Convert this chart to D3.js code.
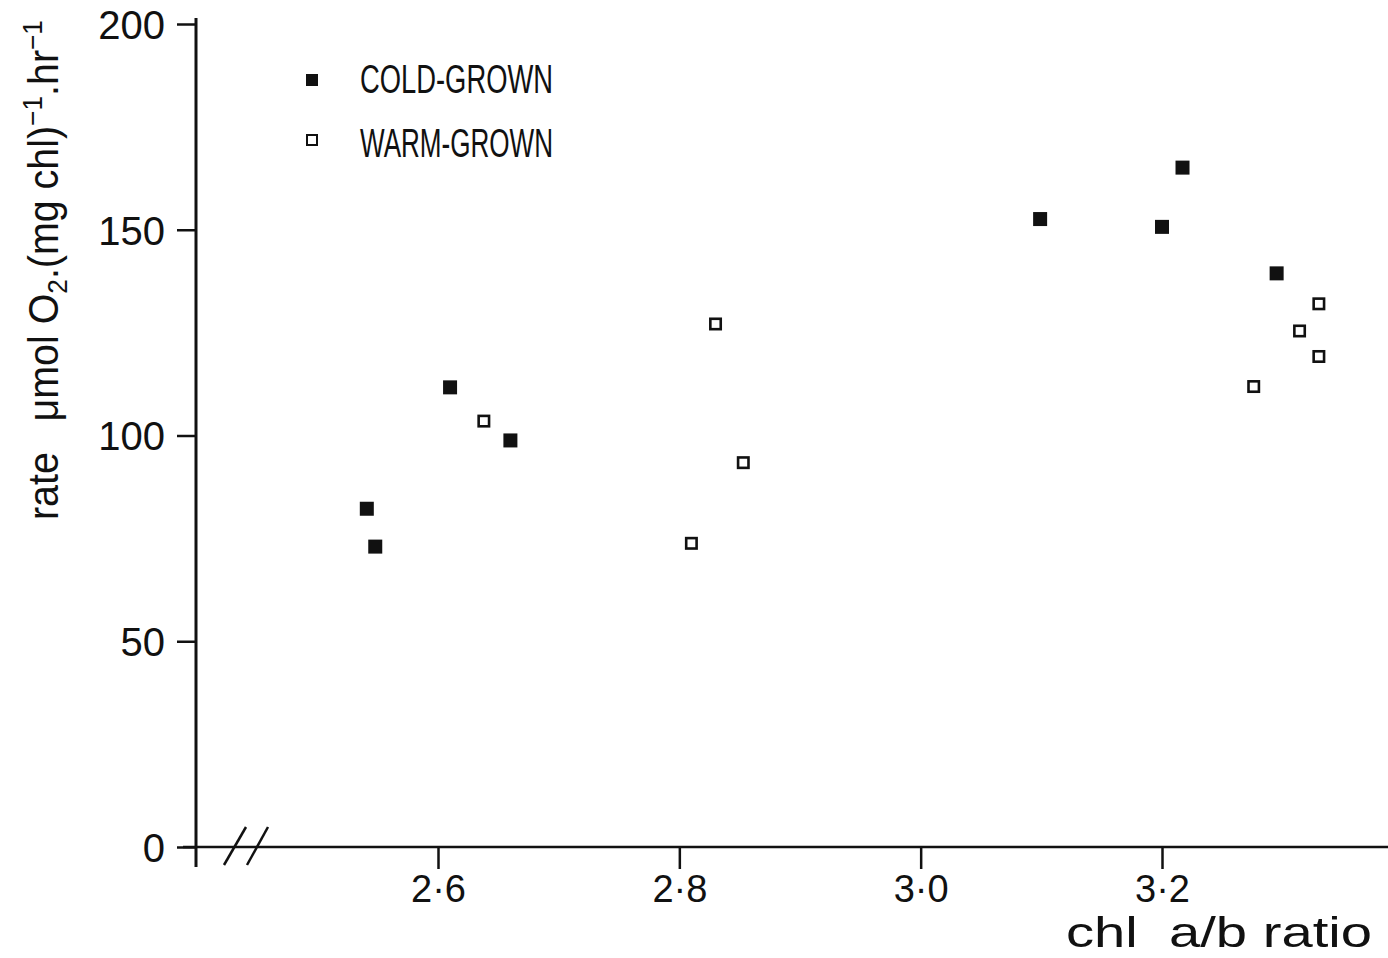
<!DOCTYPE html>
<html>
<head>
<meta charset="utf-8">
<script src="https://cdn.jsdelivr.net/npm/d3@7"></script>
<style>
  html, body { margin: 0; padding: 0; background: #fff; }
  svg { display: block; }
  .tick text { font-family: "Liberation Sans", Arial, sans-serif; }
</style>
</head>
<body>
<svg id="chart" width="1388" height="958"></svg>
<script>
// Photosynthetic rate vs chlorophyll a/b ratio
const coldRatio = [2.541, 2.548, 2.610, 2.660, 3.099, 3.200, 3.217, 3.295];
const coldRate  = [82.2, 73.0, 111.7, 98.8, 152.6, 150.7, 165.1, 139.4];
const warmRatio = [2.638, 2.810, 2.830, 2.853, 3.276, 3.314, 3.330, 3.330];
const warmRate  = [103.5, 73.8, 127.1, 93.4, 111.9, 125.4, 119.2, 132.0];
const xTicks = [2.6, 2.8, 3.0, 3.2];
const yTicks = [0, 50, 100, 150, 200];
const seriesNames = ["COLD-GROWN", "WARM-GROWN"];

const svg = d3.select("#chart");
const W = 1388, H = 958;
const originX = 196, originY = 847;
const fontMain = "'Liberation Sans', Arial, sans-serif";

const x = d3.scaleLinear().domain([2.6, 3.2]).range([438, 1162]);
const y = d3.scaleLinear().domain([0, 200]).range([originY, 24]);

const ink = "#111";

// Y axis
const yAxis = svg.append("g")
  .attr("transform", `translate(${originX},0)`)
  .call(d3.axisLeft(y).tickValues(yTicks).tickSize(19).tickPadding(12).tickFormat(d3.format("d")));
yAxis.select(".domain").remove();
yAxis.selectAll(".tick line").attr("stroke", ink).attr("stroke-width", 2.5);
yAxis.selectAll(".tick text").attr("font-size", 40).attr("fill", ink).attr("dy", "0.36em");
svg.append("line")
  .attr("x1", originX).attr("x2", originX)
  .attr("y1", 18).attr("y2", originY + 20)
  .attr("stroke", ink).attr("stroke-width", 3);

// X axis
const xAxis = svg.append("g")
  .attr("transform", `translate(0,${originY})`)
  .call(d3.axisBottom(x).tickValues(xTicks).tickSize(22).tickPadding(6)
    .tickFormat(d => d3.format(".1f")(d).replace(".", "\u00B7")));
xAxis.select(".domain").remove();
xAxis.selectAll(".tick line").attr("stroke", ink).attr("stroke-width", 2.5);
xAxis.selectAll(".tick text").attr("font-size", 38).attr("fill", ink);
svg.append("line")
  .attr("x1", originX - 13).attr("x2", W)
  .attr("y1", originY).attr("y2", originY)
  .attr("stroke", ink).attr("stroke-width", 2.5);

// axis break marks
[[224, 246], [247, 268]].forEach(([a, b]) => {
  svg.append("line")
    .attr("x1", a).attr("y1", originY + 18)
    .attr("x2", b).attr("y2", originY - 20)
    .attr("stroke", ink).attr("stroke-width", 2.5);
});

// Data points
const cold = coldRatio.map((r, i) => ({ r, v: coldRate[i] }));
const warm = warmRatio.map((r, i) => ({ r, v: warmRate[i] }));

svg.append("g").selectAll("rect").data(cold).join("rect")
  .attr("x", d => x(d.r) - 7).attr("y", d => y(d.v) - 7)
  .attr("width", 14).attr("height", 14)
  .attr("fill", ink);

svg.append("g").selectAll("rect").data(warm).join("rect")
  .attr("x", d => x(d.r) - 5.2).attr("y", d => y(d.v) - 5.2)
  .attr("width", 10.4).attr("height", 10.4)
  .attr("fill", "#fff").attr("stroke", ink).attr("stroke-width", 2.6);

// Legend
const legend = svg.append("g");
legend.append("rect").attr("x", 306).attr("y", 74).attr("width", 12).attr("height", 12).attr("fill", ink);
legend.append("rect").attr("x", 307).attr("y", 135).attr("width", 10).attr("height", 10)
  .attr("fill", "#fff").attr("stroke", ink).attr("stroke-width", 2);
legend.selectAll("text.lg").data(seriesNames).join("text")
  .attr("class", "lg")
  .attr("x", 360).attr("y", (d, i) => 93 + i * 64)
  .attr("font-family", fontMain)
  .attr("font-size", 41).attr("fill", ink)
  .attr("textLength", 193).attr("lengthAdjust", "spacingAndGlyphs")
  .text(d => d);

// Y axis title
const yt = svg.append("text")
  .attr("transform", "translate(58,520) rotate(-90)")
  .attr("font-family", fontMain)
  .attr("font-size", 42).attr("fill", ink)
  .attr("textLength", 500).attr("lengthAdjust", "spacingAndGlyphs");
yt.append("tspan").text("rate\u2002 \u03BCmol O");
yt.append("tspan").attr("font-size", 28).attr("dy", 9).text("2");
yt.append("tspan").attr("dy", -9).text(".(mg chl)");
yt.append("tspan").attr("font-size", 28).attr("dy", -16).text("\u22121");
yt.append("tspan").attr("dy", 16).text(".hr");
yt.append("tspan").attr("font-size", 28).attr("dy", -16).text("\u22121");

// X axis title
svg.append("text")
  .attr("x", 1066).attr("y", 947)
  .attr("font-family", fontMain)
  .attr("font-size", 42).attr("fill", ink)
  .attr("textLength", 306).attr("lengthAdjust", "spacingAndGlyphs")
  .text("chl\u00A0 a/b ratio");
</script>
</body>
</html>
